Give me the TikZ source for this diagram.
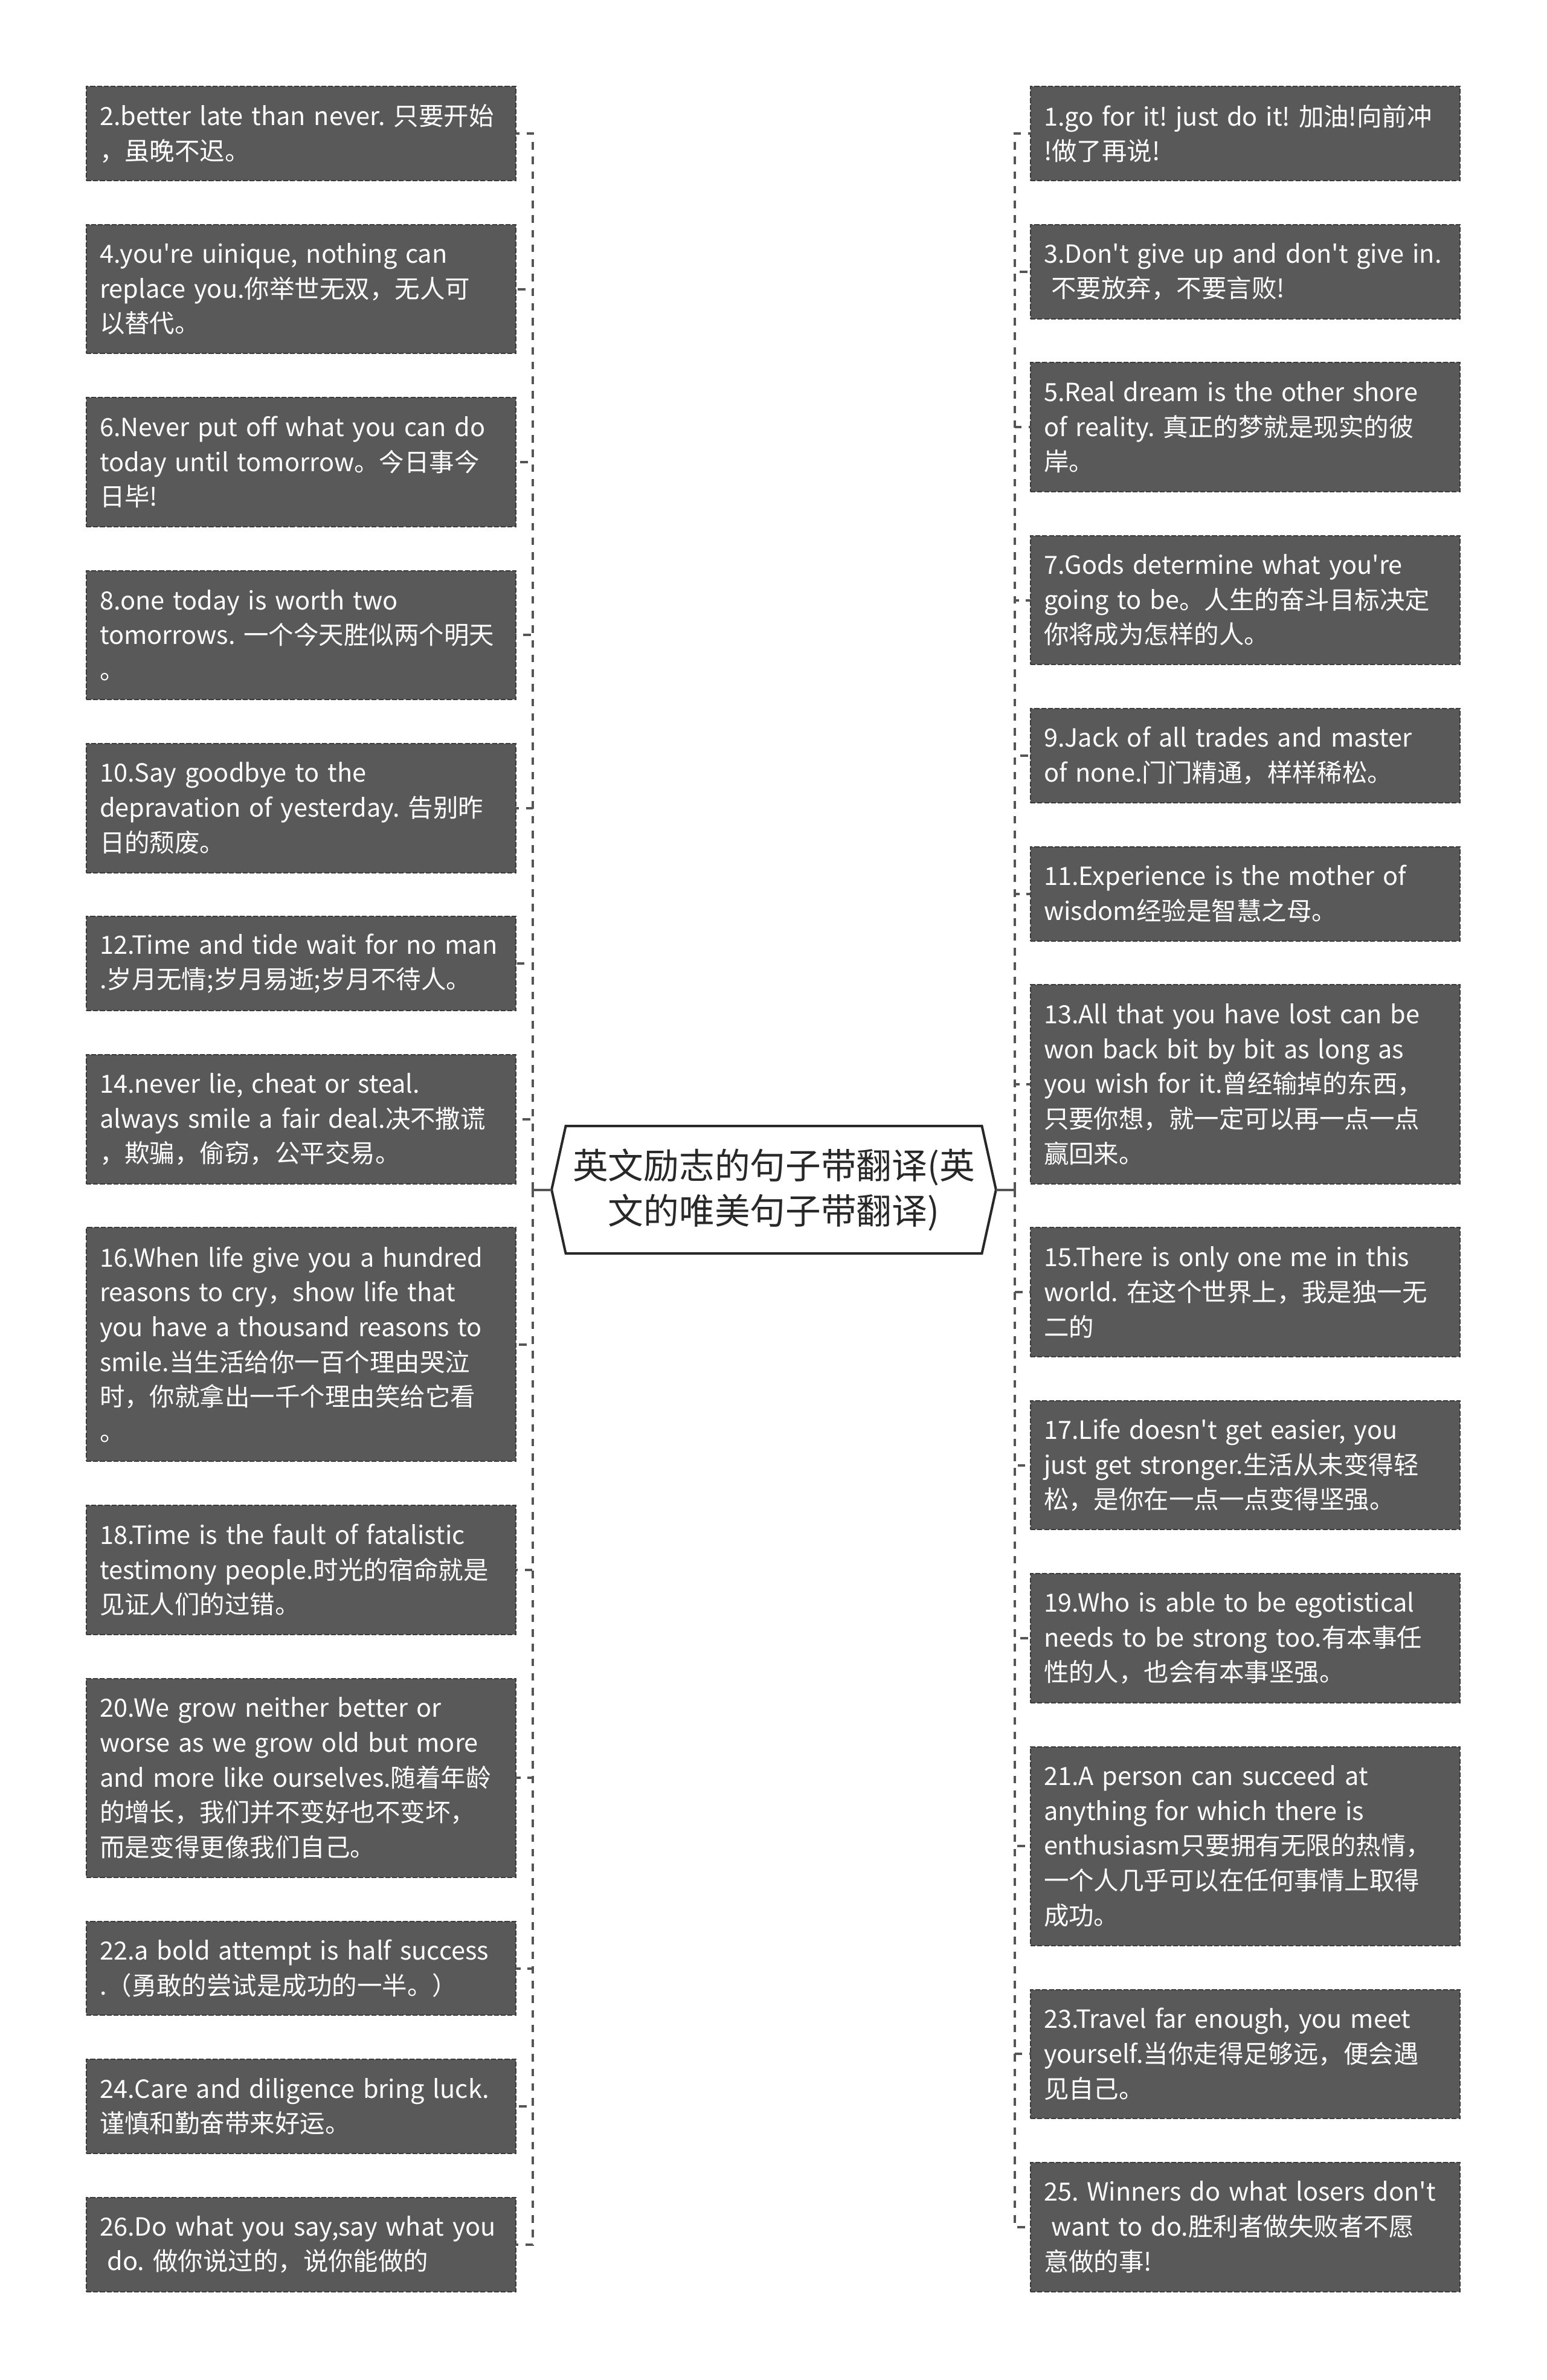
\documentclass[tikz,border=0pt]{standalone}
\usepackage{fontspec}
\setmainfont{Noto Sans CJK SC}[Ligatures=TeXOff]
\frenchspacing
\usetikzlibrary{positioning,shapes.symbols}
\definecolor{quoteC}{RGB}{89,89,89}
\definecolor{edgeC}{RGB}{58,58,58}
\definecolor{linkC}{RGB}{85,85,85}
\definecolor{titleC}{RGB}{40,40,40}
\tikzset{
	quote/.style={draw=edgeC, fill=quoteC, dash pattern=on 2.3pt off 0.9pt,
		line width=0.6pt, text=white, align=left, text width=6.67cm,
		inner xsep=0.22cm, inner ysep=0pt, outer sep=0pt, minimum width=7.11cm,
		font=\fontsize{11.8}{16.4}\selectfont},
	nrows/.style={minimum height={(0.402+#1*0.578)*1cm}},
	hub/.style={signal, signal to=west and east, signal pointer angle=155,
		draw=titleC, line width=1.15pt, fill=white, minimum width=7.14cm,
		minimum height=2.11cm, align=center, text=titleC, outer sep=0pt,
		font=\fontsize{16.7}{21.3}\selectfont},
	link/.style={draw=linkC, line width=1.15pt, dash pattern=on 3.6pt off 3.3pt},
	stub/.style={draw=linkC, line width=1.15pt},
}

\begin{document}
\begin{tikzpicture}
		\useasboundingbox (0,0) rectangle (25.6,-39.4);
		
		% ================= Centre =================
		\node[hub] (title) at (12.81,-19.695)
		{英文励志的句子带翻译(英\\文的唯美句子带翻译)};
		\coordinate[left=0.31cm of title.west] (hubL);
		\coordinate[right=0.31cm of title.east] (hubR);
		
		% ================= Left column =================
		\node[quote, nrows=2, anchor=north] (l2) at (4.985,-1.432)
		{2.better late than never. 只要开始\\，虽晚不迟。};
		\node[quote, nrows=3, below=0.728cm of l2] (l4)
		{4.you're uinique, nothing can\\replace you.你举世无双，无人可\\以替代。};
		\node[quote, nrows=3, below=0.728cm of l4] (l6)
		{6.Never put off what you can do\\today until tomorrow。今日事今\\日毕!};
		\node[quote, nrows=3, below=0.728cm of l6] (l8)
		{8.one today is worth two\\tomorrows. 一个今天胜似两个明天\\。};
		\node[quote, nrows=3, below=0.728cm of l8] (l10)
		{10.Say goodbye to the\\depravation of yesterday. 告别昨\\日的颓废。};
		\node[quote, nrows=2, below=0.728cm of l10] (l12)
		{12.Time and tide wait for no man\\.岁月无情;岁月易逝;岁月不待人。};
		\node[quote, nrows=3, below=0.728cm of l12] (l14)
		{14.never lie, cheat or steal.\\always smile a fair deal.决不撒谎\\，欺骗，偷窃，公平交易。};
		\node[quote, nrows=6, below=0.728cm of l14] (l16)
		{16.When life give you a hundred\\reasons to cry，show life that\\you have a thousand reasons to\\smile.当生活给你一百个理由哭泣\\时，你就拿出一千个理由笑给它看\\。};
		\node[quote, nrows=3, below=0.728cm of l16] (l18)
		{18.Time is the fault of fatalistic\\testimony people.时光的宿命就是\\见证人们的过错。};
		\node[quote, nrows=5, below=0.728cm of l18] (l20)
		{20.We grow neither better or\\worse as we grow old but more\\and more like ourselves.随着年龄\\的增长，我们并不变好也不变坏，\\而是变得更像我们自己。};
		\node[quote, nrows=2, below=0.728cm of l20] (l22)
		{22.a bold attempt is half success\\.（勇敢的尝试是成功的一半。）};
		\node[quote, nrows=2, below=0.728cm of l22] (l24)
		{24.Care and diligence bring luck.\\谨慎和勤奋带来好运。};
		\node[quote, nrows=2, below=0.728cm of l24] (l26)
		{26.Do what you say,say what you\\\hspace*{.3em}do. 做你说过的，说你能做的};
		
		% ================= Right column =================
		\node[quote, nrows=2, anchor=north] (r1) at (20.615,-1.432)
		{1.go for it! just do it! 加油!向前冲\\!做了再说!};
		\node[quote, nrows=2, below=0.728cm of r1] (r3)
		{3.Don't give up and don't give in.\\\hspace*{.3em}不要放弃，不要言败!};
		\node[quote, nrows=3, below=0.728cm of r3] (r5)
		{5.Real dream is the other shore\\of reality. 真正的梦就是现实的彼\\岸。};
		\node[quote, nrows=3, below=0.728cm of r5] (r7)
		{7.Gods determine what you're\\going to be。人生的奋斗目标决定\\你将成为怎样的人。};
		\node[quote, nrows=2, below=0.728cm of r7] (r9)
		{9.Jack of all trades and master\\of none.门门精通，样样稀松。};
		\node[quote, nrows=2, below=0.728cm of r9] (r11)
		{11.Experience is the mother of\\wisdom经验是智慧之母。};
		\node[quote, nrows=5, below=0.728cm of r11] (r13)
		{13.All that you have lost can be\\won back bit by bit as long as\\you wish for it.曾经输掉的东西，\\只要你想，就一定可以再一点一点\\赢回来。};
		\node[quote, nrows=3, below=0.728cm of r13] (r15)
		{15.There is only one me in this\\world. 在这个世界上，我是独一无\\二的};
		\node[quote, nrows=3, below=0.728cm of r15] (r17)
		{17.Life doesn't get easier, you\\just get stronger.生活从未变得轻\\松，是你在一点一点变得坚强。};
		\node[quote, nrows=3, below=0.728cm of r17] (r19)
		{19.Who is able to be egotistical\\needs to be strong too.有本事任\\性的人，也会有本事坚强。};
		\node[quote, nrows=5, below=0.728cm of r19] (r21)
		{21.A person can succeed at\\anything for which there is\\enthusiasm只要拥有无限的热情，\\一个人几乎可以在任何事情上取得\\成功。};
		\node[quote, nrows=3, below=0.728cm of r21] (r23)
		{23.Travel far enough, you meet\\yourself.当你走得足够远，便会遇\\见自己。};
		\node[quote, nrows=3, below=0.728cm of r23] (r25)
		{25. Winners do what losers don't\\\hspace*{.3em}want to do.胜利者做失败者不愿\\意做的事!};
		
		% ================= Connectors =================
		\draw[stub] (title.west) -- (hubL);
		\draw[stub] (title.east) -- (hubR);
		\foreach \b in {l2,l4,l6,l8,l10,l12,l14,l16,l18,l20,l22,l24,l26}
		\draw[link] (hubL) |- (\b.east);
		\foreach \b in {r1,r3,r5,r7,r9,r11,r13,r15,r17,r19,r21,r23,r25}
		\draw[link] (hubR) |- (\b.west);
		
	\end{tikzpicture}
\end{document}
